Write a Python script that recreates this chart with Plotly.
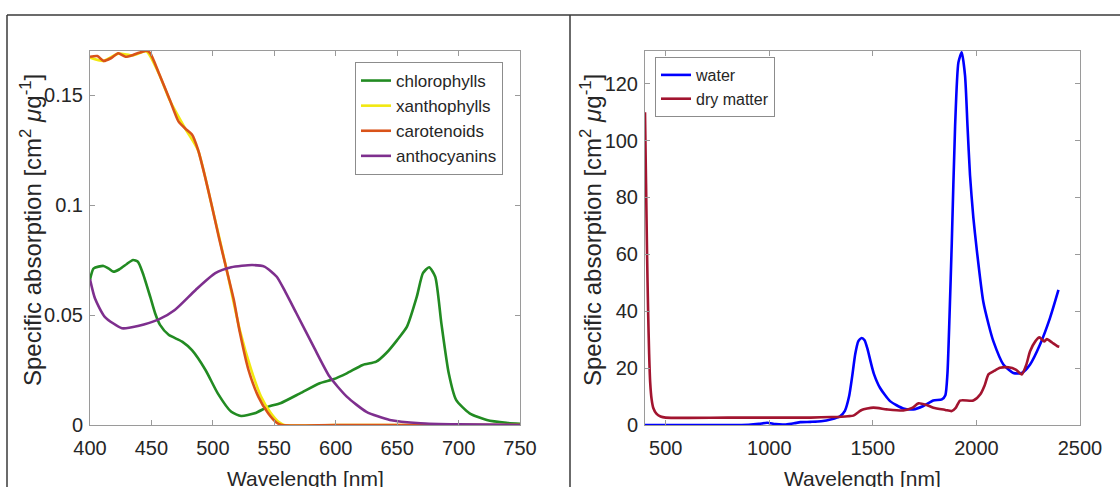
import plotly.graph_objects as go

# ---------------- Left panel: pigments ----------------
chl_wl = [400, 403, 411, 415, 419, 424, 430, 435, 439, 443, 449, 453, 457, 464, 475, 483, 494, 504, 515, 523,
          534, 545, 555, 571, 587, 598, 609, 622, 633, 641, 650, 658, 666, 671, 676, 681, 686, 692, 698, 709,
          723, 739, 750]
chl = [0.0660, 0.0712, 0.0723, 0.0712, 0.0697, 0.0708, 0.0732, 0.0750, 0.0742, 0.0690, 0.0583, 0.0508, 0.0455,
       0.0410, 0.0379, 0.0340, 0.0250, 0.0144, 0.0060, 0.0041, 0.0053, 0.0083, 0.0099, 0.0144, 0.0190, 0.0208,
       0.0235, 0.0273, 0.0288, 0.0326, 0.0386, 0.0447, 0.0583, 0.0690, 0.0717, 0.0674, 0.0462, 0.0235, 0.0114,
       0.0053, 0.0023, 0.0010, 0.0006]

xan_wl = [400, 411, 423, 435, 446, 456, 465, 478, 488, 499, 511, 522, 531, 539, 547, 554, 558, 600, 750]
xan = [0.1670, 0.1655, 0.1688, 0.1680, 0.1698, 0.1598, 0.1475, 0.1343, 0.1248, 0.1000, 0.0712, 0.0430, 0.0255,
       0.0132, 0.0056, 0.0012, 0.0, 0.0, 0.0]

car_wl = [400, 406, 411, 417, 423, 429, 435, 440, 446, 449, 456, 465, 472, 478, 483, 488, 494, 499, 505, 511,
          517, 522, 529, 537, 545, 552, 556, 600, 750]
car = [0.1674, 0.1677, 0.1655, 0.1667, 0.1690, 0.1674, 0.1682, 0.1692, 0.1701, 0.1690, 0.1600, 0.1477, 0.1380,
       0.1345, 0.1320, 0.1250, 0.1120, 0.1000, 0.0850, 0.0710, 0.0570, 0.0420, 0.0250, 0.0129, 0.0053, 0.0010,
       0.0, 0.0, 0.0]

ant_wl = [400, 404, 412, 426, 439, 456, 469, 486, 502, 515, 532, 542, 552, 559, 568, 582, 595, 609, 625, 644,
          669, 700, 750]
ant = [0.0662, 0.0576, 0.0492, 0.0440, 0.0450, 0.0480, 0.0523, 0.0614, 0.0690, 0.0717, 0.0727, 0.0720, 0.0674,
       0.0605, 0.0508, 0.0356, 0.0220, 0.0129, 0.0060, 0.0023, 0.0008, 0.0003, 0.0]

# ---------------- Right panel: water & dry matter ----------------
wat_wl = [400, 500, 700, 900, 950, 990, 1030, 1080, 1120, 1150, 1200, 1250, 1300, 1340, 1365, 1385, 1400, 1415,
          1430, 1446, 1460, 1475, 1490, 1505, 1535, 1583, 1647, 1695, 1744, 1792, 1833, 1850, 1860, 1870, 1881,
          1897, 1913, 1929, 1945, 1957, 1969, 1985, 2001, 2033, 2060, 2082, 2130, 2178, 2219, 2259, 2307, 2355,
          2396]
water = [0.0, 0.0, 0.0, 0.1, 0.4, 0.8, 0.3, 0.2, 0.6, 1.0, 1.1, 1.3, 2.0, 3.0, 5.0, 10.0, 17.0, 25.0, 29.5, 30.6,
         29.8, 26.5, 22.0, 18.0, 13.0, 8.4, 5.8, 5.5, 6.7, 8.6, 9.0, 10.5, 18.0, 38.0, 64.0, 105.0, 127.5, 131.0,
         122.8, 105.0, 87.8, 73.0, 62.0, 43.4, 35.0, 29.4, 21.3, 18.3, 18.3, 21.3, 28.3, 37.6, 47.5]

dm_wl = [400, 405, 410, 415, 420, 425, 432, 440, 455, 475, 500, 800, 1200, 1300, 1380, 1406, 1430, 1446, 1502,
         1567, 1647, 1690, 1720, 1760, 1792, 1850, 1881, 1900, 1921, 1985, 2018, 2040, 2058, 2085, 2114, 2154,
         2190, 2219, 2240, 2259, 2285, 2304, 2327, 2340, 2365, 2391, 2400]
dry = [110, 85, 60, 40, 25, 15, 9, 6, 4, 3, 2.6, 2.6, 2.6, 2.8, 3.1, 3.3, 4.5, 5.3, 6.1, 5.5, 5.1, 6.0, 7.6, 7.0,
       6.1, 5.3, 4.9, 6.0, 8.6, 8.6, 10.7, 14.0, 17.8, 19.0, 20.1, 20.3, 19.5, 17.8, 21.0, 25.9, 29.5, 30.8, 29.4,
       30.2, 29.0, 27.7, 27.5]

left_xticks = [400, 450, 500, 550, 600, 650, 700, 750]
left_yticks = [0, 0.05, 0.1, 0.15]
left_yticktext = ["0", "0.05", "0.1", "0.15"]
right_xticks = [500, 1000, 1500, 2000, 2500]
right_yticks = [0, 20, 40, 60, 80, 100, 120]

FONT = "Liberation Sans, Arial, sans-serif"
TXT = "#262626"
W, H = 1120, 487

fig = go.Figure()
lw = 2.6
sp = dict(shape="spline", smoothing=0.6)
fig.add_trace(go.Scatter(x=chl_wl, y=chl, mode="lines", name="chlorophylls",
                         line=dict(color="#228B22", width=lw, **sp), xaxis="x", yaxis="y", legend="legend"))
fig.add_trace(go.Scatter(x=xan_wl, y=xan, mode="lines", name="xanthophylls",
                         line=dict(color="#F2E810", width=lw, **sp), xaxis="x", yaxis="y", legend="legend"))
fig.add_trace(go.Scatter(x=car_wl, y=car, mode="lines", name="carotenoids",
                         line=dict(color="#D95319", width=lw, **sp), xaxis="x", yaxis="y", legend="legend"))
fig.add_trace(go.Scatter(x=ant_wl, y=ant, mode="lines", name="anthocyanins",
                         line=dict(color="#7E2F8E", width=lw, **sp), xaxis="x", yaxis="y", legend="legend"))
fig.add_trace(go.Scatter(x=wat_wl, y=water, mode="lines", name="water",
                         line=dict(color="#0000FF", width=lw, **sp), xaxis="x2", yaxis="y2", legend="legend2"))
fig.add_trace(go.Scatter(x=dm_wl, y=dry, mode="lines", name="dry matter",
                         line=dict(color="#A2142F", width=lw, **sp), xaxis="x2", yaxis="y2", legend="legend2"))

ydom = [(H - 425) / H, (H - 51) / H]
axis_common = dict(showline=True, mirror="ticks", linecolor="#9a9a9a", linewidth=1, ticks="inside",
                   ticklen=5, tickcolor="#9a9a9a", showgrid=False, zeroline=False, automargin=False,
                   tickfont=dict(family=FONT, size=20, color=TXT))

fig.update_layout(
    width=W, height=H, margin=dict(l=0, r=0, t=0, b=0, pad=0, autoexpand=False),
    paper_bgcolor="white", plot_bgcolor="white",
    font=dict(family=FONT, color=TXT),
    xaxis=dict(domain=[90 / W, 520 / W], range=[400, 750], tickvals=left_xticks, anchor="y",
               ticklabelstandoff=5, **axis_common),
    yaxis=dict(domain=ydom, range=[0, 0.17], tickvals=left_yticks, ticktext=left_yticktext, anchor="x",
               ticklabelstandoff=2, **axis_common),
    xaxis2=dict(domain=[645 / W, 1080 / W], range=[400, 2500], tickvals=right_xticks, anchor="y2",
                ticklabelstandoff=5, **axis_common),
    yaxis2=dict(domain=ydom, range=[0, 131.5], tickvals=right_yticks, anchor="x2",
                ticklabelstandoff=2, **axis_common),
    legend=dict(x=355 / W, y=(H - 62) / H, xanchor="left", yanchor="top", bgcolor="white",
                bordercolor="#8c8c8c", borderwidth=1, font=dict(family=FONT, size=17, color=TXT),
                tracegroupgap=0, itemwidth=30),
    legend2=dict(x=655 / W, y=(H - 57) / H, xanchor="left", yanchor="top", bgcolor="white",
                 bordercolor="#8c8c8c", borderwidth=1, font=dict(family=FONT, size=16, color=TXT),
                 tracegroupgap=0, itemwidth=30),
    showlegend=True,
)

ytitle = "Specific absorption [cm<sup>2</sup> <i>μ</i>g<sup>-1</sup>]"
ann_font = dict(family=FONT, size=21, color=TXT)
yt_font = dict(family=FONT, size=24, color=TXT)
fig.add_annotation(text="Wavelength [nm]", xref="paper", yref="paper", x=305 / W, y=(H - 478) / H,
                   xanchor="center", yanchor="middle", showarrow=False, font=ann_font)
fig.add_annotation(text="Wavelength [nm]", xref="paper", yref="paper", x=862 / W, y=(H - 478) / H,
                   xanchor="center", yanchor="middle", showarrow=False, font=ann_font)
fig.add_annotation(text=ytitle, xref="paper", yref="paper", x=31 / W, y=(H - 230) / H, textangle=-90,
                   xanchor="center", yanchor="middle", showarrow=False, font=yt_font)
fig.add_annotation(text=ytitle, xref="paper", yref="paper", x=591 / W, y=(H - 230) / H, textangle=-90,
                   xanchor="center", yanchor="middle", showarrow=False, font=yt_font)

frame = dict(color="#3a3a3a", width=1.5)
top_y = (H - 15) / H
fig.add_shape(type="line", xref="paper", yref="paper", x0=7 / W, x1=1, y0=top_y, y1=top_y, line=frame)
fig.add_shape(type="line", xref="paper", yref="paper", x0=7 / W, x1=7 / W, y0=-0.01, y1=top_y, line=frame)
fig.add_shape(type="line", xref="paper", yref="paper", x0=570 / W, x1=570 / W, y0=-0.01, y1=top_y, line=frame)

fig.write_html("out.html")
